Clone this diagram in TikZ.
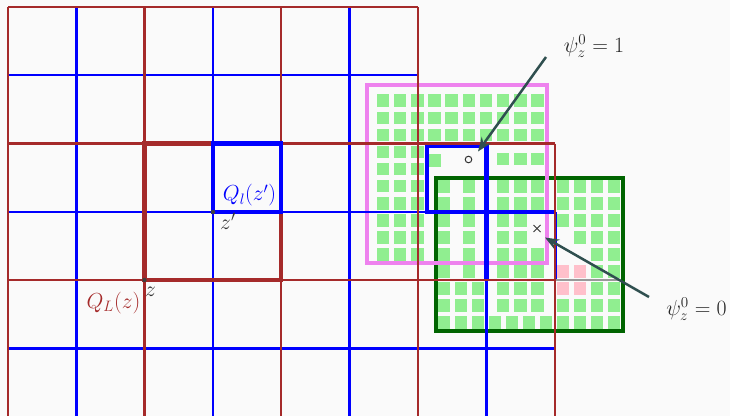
\documentclass[tikz,border=0pt]{standalone}
\usetikzlibrary{arrows.meta,calc}
\definecolor{bgc}{HTML}{FAFAFA}
\definecolor{brn}{HTML}{A52A2A}
\definecolor{blu}{HTML}{0000FF}
\definecolor{vio}{HTML}{EE82EE}
\definecolor{dgr}{HTML}{006400}
\definecolor{lgr}{HTML}{90EE90}
\definecolor{pnk}{HTML}{FFC0CB}
\definecolor{dsg}{HTML}{2F4F4F}
\begin{document}
\begin{tikzpicture}[x=1pt,y=-1pt,
  thinbrown/.style={draw=brn,line width=2.3pt},
  thinblue/.style={draw=blu,line width=2.2pt},
  thickbrown/.style={draw=brn,line width=4.5pt},
  thickblue/.style={draw=blu,line width=4.5pt},
  gsq/.style={fill=lgr},
  psq/.style={fill=pnk},
  lab/.style={font=\huge, scale=1.05, inner sep=0pt},
  arr/.style={draw=dsg,line width=2.5pt,-{Stealth[length=14pt,width=11pt]}},
]
\useasboundingbox (0,0) rectangle (730,416);
\fill[bgc] (0,0) rectangle (730,416);

% ---------- small squares ----------
\foreach \i in {0,...,9}
  \foreach \k in {0,1,2}
    \fill[gsq] ({383+17.17*\i-6.25},{100.7+17.1*\k-6.25}) rectangle ++(12.5,12.5);
\foreach \i in {0,1,2}
  \foreach \k in {3,...,9}
    \fill[gsq] ({383+17.17*\i-6.25},{100.7+17.1*\k-6.25}) rectangle ++(12.5,12.5);
\foreach \x/\y in {434.5/160.5, 503.2/159, 520.4/159, 537.5/159}
  \fill[gsq] ({\x-6.25},{\y-6.25}) rectangle ++(12.5,12.5);
\foreach \x/\ms in {444/{0,...,8}, 468.9/{0,...,5}, 461/{6,7,8}, 478/{6,7,8},
    495/{8}, 503.2/{0,...,7}, 520.4/{0,...,7}, 512/{8}, 529/{8}, 546/{8},
    537.5/{0,1,4,5,6,7}, 563/{0,1,2,7,8}, 580/{0,1,2,3,7,8},
    597/{0,...,8}, 614/{0,...,8}}
  \foreach \m in \ms
    \fill[gsq] ({\x-6.25},{186.5+17*\m-6.25}) rectangle ++(12.5,12.5);
\foreach \x in {563,580}
  \foreach \m in {5,6}
    \fill[psq] ({\x-6.25},{186.5+17*\m-6.25}) rectangle ++(12.5,12.5);

% ---------- boxes ----------
\draw[dgr,line width=4pt] (435.5,177.5) rectangle (623,330.5);
\draw[vio,line width=4pt] (366.5,84.5) rectangle (546.5,262.5);

\draw[thickblue] (427,145.5) rectangle (486.5,212);
\draw[thickblue] (486.5,212) -- (556,212);
\draw[thickblue] (486.5,212) -- (486.5,280);
\draw[thinblue] (556,212) -- (556,280) -- (486.5,280);
\draw[draw=black!40,line width=1.5pt] (556,280) -- (620,280);

% ---------- main grid ----------
\foreach \x in {76.5,213,349.5}
  \draw[thinblue] (\x,7) -- (\x,416);
\draw[thinblue] (486.5,143.5) -- (486.5,416);
\draw[thinblue] (8,75) -- (418,75);
\foreach \y in {212,348.5}
  \draw[thinblue] (8,\y) -- (555,\y);
\draw[blu,line width=3.5pt] (8,348.5) -- (17,348.5);
\draw[thinbrown] (8,7) -- (418,7);
\foreach \y in {143.5,280}
  \draw[thinbrown] (8,\y) -- (555,\y);
\foreach \x in {8,144.5,281,418}
  \draw[thinbrown] (\x,7) -- (\x,416);
\draw[thinbrown] (555,143.5) -- (555,416);

% ---------- highlighted cubes ----------
\draw[thickbrown] (144.5,143.5) rectangle (281,280);
\draw[thickblue] (213,143.5) rectangle (281,212);

% ---------- points and labels ----------
\coordinate (zp) at (213,212);
\coordinate (z) at (144.5,280);
\fill[black!75] (zp) circle (2.2pt);
\fill[black!75] (z) circle (2.2pt);
\node[lab,text=blu] (qlab) at (249.5,195.5) {$Q_l(z')$};
\node[lab,text=black!80] (zplab) at (228,221.5) {$z'$};
\node[lab,text=black!80] (zlab) at (150.5,291.5) {$z$};
\node[lab,text=brn] (qLlab) at (113.5,303) {$Q_L(z)$};

\coordinate (circ) at (468.5,159.5);
\coordinate (crs) at (537,228.5);
\draw[black!80,line width=1pt] (circ) circle (3.3pt);
\draw[black!80,line width=1pt] ($(crs)+(-3.5,-3.5)$) -- ($(crs)+(3.5,3.5)$);
\draw[black!80,line width=1pt] ($(crs)+(-3.5,3.5)$) -- ($(crs)+(3.5,-3.5)$);

\node[lab,text=black!85] (psione) at (594,46) {$\psi_z^0=1$};
\node[lab,text=black!85] (psizero) at (696.5,309) {$\psi_z^0=0$};
\coordinate (a1s) at (546,57);
\coordinate (a1e) at (478,151.5);
\coordinate (a2s) at (649,297);
\coordinate (a2e) at (545,237.5);
\draw[arr] (a1s) -- (a1e);
\draw[arr] (a2s) -- (a2e);
\end{tikzpicture}
\end{document}
